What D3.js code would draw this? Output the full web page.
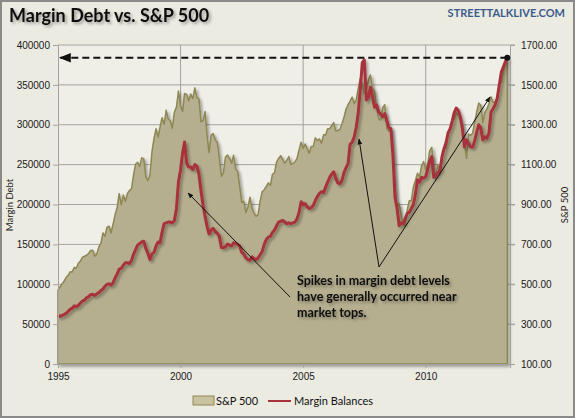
<!DOCTYPE html>
<meta charset="utf-8">
<style>
body { margin: 0; background: #ecebe2; }
svg { display: block; font-family: Lato, "Open Sans", sans-serif; }
.grid line { stroke: #a3a3a3; stroke-width: 1; }
.axis text { font-size: 10px; fill: #1a1a1a; }
.axis path, .axis line { stroke: #a3a3a3; }
</style>
<body>
<svg width="575" height="418"></svg>

<script src="https://d3js.org/d3.v7.min.js"></script>
<script>

// S&P 500 monthly level, Jan 1995 - May 2013
var spx = [
  470.4, 487.4, 500.7, 514.7, 533.4, 544.8, 562.1, 561.9, 584.4, 581.5, 605.4, 615.9,
  636.0, 640.4, 645.5, 654.2, 669.1, 670.6, 639.9, 651.9, 687.3, 705.3, 757.0, 740.7,
  786.2, 791.0, 757.1, 801.3, 848.3, 885.1, 954.3, 899.5, 947.3, 914.6, 955.4, 970.4,
  980.3, 1049.3, 1101.8, 1111.8, 1090.8, 1133.8, 1130.0, 1040.0, 1020.0, 1045.0, 1163.6, 1229.2,
  1279.6, 1238.3, 1286.4, 1335.2, 1301.8, 1372.7, 1328.7, 1320.4, 1282.7, 1362.9, 1388.9, 1469.3,
  1394.5, 1366.4, 1457.0, 1452.4, 1420.6, 1454.6, 1430.8, 1485.0, 1436.5, 1429.4, 1314.9, 1320.3,
  1366.0, 1239.9, 1160.3, 1249.5, 1255.8, 1224.4, 1211.2, 1133.6, 1040.9, 1059.8, 1139.5, 1148.1,
  1130.2, 1106.7, 1147.4, 1076.9, 1067.1, 989.8, 911.6, 916.1, 860.0, 885.8, 936.3, 879.8,
  855.7, 841.2, 848.2, 916.9, 963.6, 974.5, 990.3, 1008.0, 996.0, 1050.7, 1058.2, 1111.9,
  1131.1, 1144.9, 1126.2, 1107.3, 1120.7, 1140.8, 1101.7, 1104.2, 1114.6, 1130.2, 1173.8, 1211.9,
  1181.3, 1203.6, 1180.6, 1156.9, 1191.5, 1191.3, 1234.2, 1220.3, 1228.8, 1207.0, 1249.5, 1248.3,
  1280.1, 1280.7, 1294.9, 1310.6, 1270.1, 1270.2, 1276.7, 1303.8, 1335.9, 1377.9, 1400.6, 1418.3,
  1438.2, 1406.8, 1420.9, 1482.4, 1530.6, 1503.4, 1455.3, 1474.0, 1526.8, 1549.4, 1481.1, 1468.4,
  1378.6, 1330.6, 1322.7, 1385.6, 1400.4, 1280.0, 1267.4, 1282.8, 1166.4, 1000.0, 890.0, 903.3,
  850.0, 800.0, 790.0, 872.8, 919.1, 919.3, 987.5, 1020.6, 1057.1, 1036.2, 1095.6, 1115.1,
  1073.9, 1104.5, 1169.4, 1186.7, 1089.4, 1030.7, 1101.6, 1049.3, 1141.2, 1183.3, 1180.6, 1257.6,
  1286.1, 1327.2, 1325.8, 1363.6, 1345.2, 1320.6, 1292.3, 1218.9, 1131.4, 1253.3, 1247.0, 1257.6,
  1312.4, 1365.7, 1408.5, 1397.9, 1310.3, 1362.2, 1379.3, 1406.6, 1440.7, 1412.2, 1416.2, 1426.2,
  1498.1, 1514.7, 1569.2, 1597.6, 1630.7
];

// margin balances ($ millions), same months
var margin = [
  61000, 59500, 61000, 62000, 63500, 66000, 68500, 70000, 73000, 72000, 73500, 76500,
  79000, 80000, 83000, 84500, 87000, 87500, 86000, 88000, 89500, 92000, 94000, 97500,
  100000, 100500, 99000, 102000, 108000, 113000, 119000, 120000, 124000, 127000, 127000, 126000,
  130000, 138000, 143000, 149000, 151000, 153000, 154000, 145000, 139000, 131000, 138000, 140000,
  148000, 153000, 152000, 165000, 176000, 177000, 178000, 178000, 177000, 180000, 195000, 228500,
  243000, 265000, 278500, 252000, 247000, 247000, 244000, 250000, 248000, 238000, 217000, 199000,
  185000, 172000, 163000, 168000, 170000, 166000, 164000, 160000, 146000, 146000, 147000, 150500,
  149000, 148000, 152000, 151000, 150000, 148000, 140000, 138000, 133000, 131000, 130000, 134500,
  132000, 131000, 133000, 137000, 141000, 150000, 156000, 159000, 160000, 165000, 168000, 173000,
  178000, 179000, 180000, 178000, 176000, 177000, 176000, 177000, 178000, 182000, 190000, 203500,
  200000, 201000, 197000, 195000, 196000, 199000, 205000, 210000, 214000, 216000, 215000, 221500,
  228000, 234000, 238000, 241000, 233000, 227000, 226000, 230000, 240000, 246000, 251000, 275500,
  278000, 285000, 296000, 314000, 343000, 378000, 381400, 331000, 335000, 347000, 335000, 322000,
  325000, 316000, 313000, 310000, 314000, 305000, 296000, 295000, 260000, 209000, 195000, 173500,
  177000, 176000, 182000, 189000, 190000, 195000, 200000, 213000, 231000, 228000, 234000, 233000,
  235000, 245000, 254000, 260000, 234000, 236000, 240000, 242000, 260000, 270000, 278000, 290000,
  295000, 305000, 315000, 321000, 318000, 310000, 296000, 272000, 281000, 277000, 272000, 272000,
  280000, 291000, 300000, 296000, 281000, 285000, 283000, 290000, 316000, 320000, 325000, 333000,
  350000, 366000, 372000, 379000, 384000
];

var leftTicks = [0, 50000, 100000, 150000, 200000, 250000, 300000, 350000, 400000];
var rightTicks = [100, 300, 500, 700, 900, 1100, 1300, 1500, 1700];
var yearTicks = [1995, 2000, 2005, 2010];
var noteLines = ["Spikes in margin debt levels", "have generally occurred near", "market tops."];

var svg = d3.select("svg"),
    width = +svg.attr("width"),
    height = +svg.attr("height");

var months = spx.map(function(d, i) { return new Date(1995, i, 1); });

var x = d3.scaleTime()
    .domain([new Date(1995, 0, 1), new Date(2013, 5, 10)])
    .range([58, 510]);
var yL = d3.scaleLinear().domain([0, 400000]).range([364, 45]);
var yR = d3.scaleLinear().domain([100, 1700]).range([364, 45]);

var defs = svg.append("defs");
var sh = defs.append("filter").attr("id", "shadow")
    .attr("x", "-10%").attr("y", "-10%").attr("width", "130%").attr("height", "130%");
sh.append("feDropShadow").attr("dx", 2).attr("dy", 2).attr("stdDeviation", 1.5)
    .attr("flood-color", "#000").attr("flood-opacity", 0.35);

defs.append("marker").attr("id", "arrow")
    .attr("viewBox", "0 0 10 10").attr("refX", 9).attr("refY", 5)
    .attr("markerWidth", 6).attr("markerHeight", 6).attr("orient", "auto-start-reverse")
  .append("path").attr("d", "M0,1L10,5L0,9Z").attr("fill", "#111");

// background + border
svg.append("rect").attr("x", 1).attr("y", 1).attr("width", width - 2).attr("height", height - 2)
    .attr("fill", "#ecebe2").attr("stroke", "#8a8a8a").attr("stroke-width", 2);

svg.append("rect").attr("x", 58).attr("y", 45).attr("width", 452).attr("height", 319)
    .attr("fill", "#efeee7");

// gridlines
var grid = svg.append("g").attr("class", "grid");
grid.selectAll(".h").data(leftTicks.slice(1)).enter().append("line")
    .attr("x1", 58).attr("x2", 515)
    .attr("y1", function(d) { return yL(d); }).attr("y2", function(d) { return yL(d); });
grid.selectAll(".v").data(yearTicks.slice(1)).enter().append("line")
    .attr("x1", function(d) { return x(new Date(d, 0, 1)); })
    .attr("x2", function(d) { return x(new Date(d, 0, 1)); })
    .attr("y1", 45).attr("y2", 364);

// S&P 500 area
var area = d3.area()
    .x(function(d, i) { return x(months[i]); })
    .y0(yR(100))
    .y1(function(d) { return yR(d); });

svg.append("path").datum(spx)
    .attr("d", area)
    .attr("fill", "#b6af8f")
    .attr("stroke", "#8d8752")
    .attr("stroke-width", 1.5)
    .attr("stroke-linejoin", "round")
    .attr("filter", "url(#shadow)");

// margin balances line
var line = d3.line()
    .x(function(d, i) { return x(months[i]); })
    .y(function(d) { return yL(d); });

svg.append("path").datum(margin)
    .attr("d", line)
    .attr("fill", "none")
    .attr("stroke", "#a8323a")
    .attr("stroke-width", 3)
    .attr("stroke-linejoin", "round")
    .attr("filter", "url(#shadow)");

// axes
svg.append("g").attr("class", "axis")
    .attr("transform", "translate(58,0)")
    .call(d3.axisLeft(yL).tickValues(leftTicks).tickFormat(d3.format("d")).tickSize(5).tickPadding(3));

svg.append("g").attr("class", "axis")
    .attr("transform", "translate(510,0)")
    .call(d3.axisRight(yR).tickValues(rightTicks).tickFormat(d3.format(".2f")).tickSize(5).tickPadding(6));

svg.append("g").attr("class", "axis")
    .attr("transform", "translate(0,364)")
    .call(d3.axisBottom(x).tickValues(yearTicks.map(function(d) { return new Date(d, 0, 1); }))
      .tickFormat(d3.timeFormat("%Y")).tickSize(4).tickPadding(5));

svg.selectAll(".axis .domain").attr("stroke", "#a3a3a3");

// axis titles
svg.append("text").attr("transform", "translate(13,205) rotate(-90)")
    .attr("text-anchor", "middle").attr("font-size", 9.5).attr("fill", "#222").text("Margin Debt");
svg.append("text").attr("transform", "translate(568,205) rotate(-90)")
    .attr("text-anchor", "middle").attr("font-size", 9.5).attr("fill", "#222").text("S&P 500");

// dashed level line
var lastI = margin.length - 1;
svg.append("line")
    .attr("x1", x(months[lastI])).attr("x2", 60)
    .attr("y1", yL(margin[lastI])).attr("y2", yL(margin[lastI]))
    .attr("stroke", "#111").attr("stroke-width", 2).attr("stroke-dasharray", "7,4")
    .attr("marker-end", "url(#arrow)");
svg.append("circle").attr("cx", x(months[lastI])).attr("cy", yL(margin[lastI])).attr("r", 3).attr("fill", "#111");

// annotation arrows
var arrows = [[290, 297, 188, 193], [379, 267, 359, 139], [379, 267, 490, 97]];
svg.selectAll(".arr").data(arrows).enter().append("line")
    .attr("x1", function(d) { return d[0]; }).attr("y1", function(d) { return d[1]; })
    .attr("x2", function(d) { return d[2]; }).attr("y2", function(d) { return d[3]; })
    .attr("stroke", "#111").attr("stroke-width", 1)
    .attr("marker-end", "url(#arrow)");

svg.selectAll(".note").data(noteLines).enter().append("text")
    .attr("x", 297).attr("y", function(d, i) { return 285 + i * 16; })
    .attr("font-size", 12.5).attr("font-weight", "bold").attr("fill", "#111")
    .attr("filter", "url(#shadow)")
    .text(function(d) { return d; });

// title
svg.append("text").attr("x", 9).attr("y", 22)
    .attr("font-size", 18).attr("font-weight", "bold").attr("fill", "#111")
    .attr("filter", "url(#shadow)")
    .text("Margin Debt vs. S&P 500");
svg.append("text").attr("x", 565).attr("y", 17).attr("text-anchor", "end")
    .attr("font-size", 11).attr("font-weight", "bold").attr("fill", "#3b5b8c")
    .text("STREETTALKLIVE.COM");

// legend
var lg = svg.append("g").attr("transform", "translate(0,401)");
lg.append("rect").attr("x", 193).attr("y", -5).attr("width", 21).attr("height", 9)
    .attr("fill", "#c8c29f").attr("stroke", "#8d8752");
lg.append("text").attr("x", 216).attr("y", 4).attr("font-size", 11).attr("fill", "#111").text("S&P 500");
lg.append("line").attr("x1", 268).attr("x2", 291).attr("y1", 0).attr("y2", 0)
    .attr("stroke", "#a8323a").attr("stroke-width", 2);
lg.append("text").attr("x", 294).attr("y", 4).attr("font-size", 11).attr("fill", "#111").text("Margin Balances");

</script>
</body>
